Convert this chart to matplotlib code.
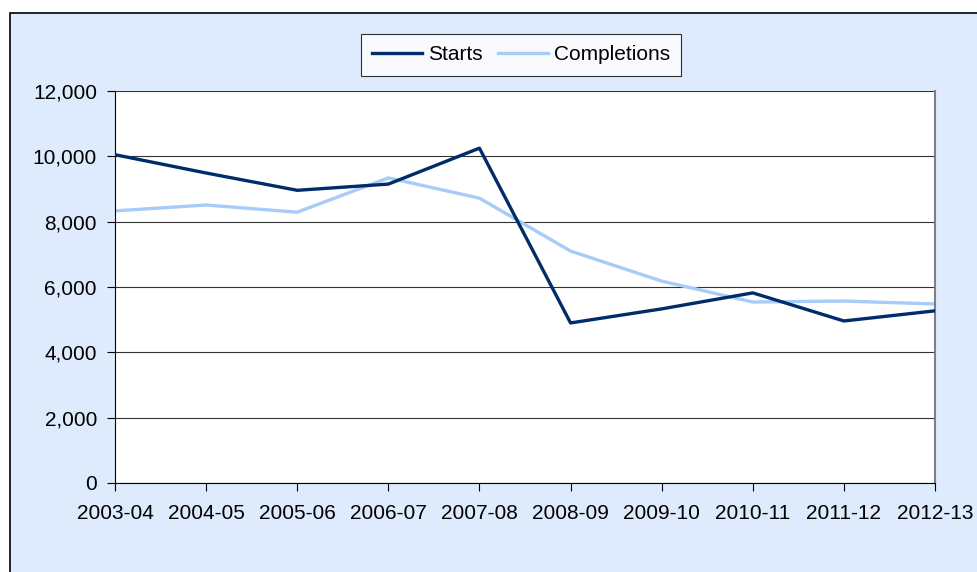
import numpy as np
import matplotlib.pyplot as plt
from matplotlib.patches import Rectangle
from matplotlib.ticker import FuncFormatter

years = ["2003-04", "2004-05", "2005-06", "2006-07", "2007-08",
         "2008-09", "2009-10", "2010-11", "2011-12", "2012-13"]
starts = [10050, 9490, 8960, 9150, 10250, 4900, 5330, 5820, 4960, 5270]
completions = [8330, 8510, 8290, 9340, 8720, 7100, 6180, 5540, 5570, 5480]

plt.rcParams['font.family'] = ['Liberation Sans', 'DejaVu Sans']

bg = '#DDEBFD'
fig = plt.figure(figsize=(9.77, 5.72), dpi=100)
fig.patch.set_facecolor('white')
# chart area with border (cut off on right and bottom)
fig.patches.append(Rectangle((10 / 977, -0.05), 1.1, (572 - 13) / 572 + 0.05,
                             transform=fig.transFigure, facecolor=bg,
                             edgecolor='black', linewidth=1.2, zorder=-1))

ax = fig.add_axes([115 / 977, 1 - 483 / 572, (935 - 115) / 977, (483 - 91) / 572])
ax.set_facecolor('white')
x = np.arange(len(years))
ax.plot(x, starts, color='#002D6A', linewidth=2.4, label='Starts', zorder=3)
ax.plot(x, completions, color='#A6CCF7', linewidth=2.4, label='Completions', zorder=2)

ax.set_xlim(0, len(years) - 1)
ax.set_ylim(0, 12000)
ax.set_yticks(np.arange(0, 12001, 2000))
ax.yaxis.set_major_formatter(FuncFormatter(lambda v, p: f"{int(v):,}"))
ax.set_xticks(x)
ax.set_xticklabels(years)
ax.grid(axis='y', color='#333333', linewidth=0.8)
ax.set_axisbelow(True)
ax.tick_params(labelsize=15, length=6, width=0.8, color='black')
ax.tick_params(axis='x', pad=9)
ax.tick_params(axis='y', pad=7)

ax.spines['top'].set_visible(False)
ax.spines['right'].set_color('#808080')
ax.spines['right'].set_linewidth(1.5)
ax.spines['left'].set_color('black')
ax.spines['bottom'].set_color('black')

leg = ax.legend(loc='center', bbox_to_anchor=(521 / 977, 1 - 55 / 572),
                bbox_transform=fig.transFigure, ncol=2, fontsize=15,
                frameon=True, fancybox=False, edgecolor='black',
                handlelength=2.4, handletextpad=0.3, columnspacing=0.7,
                borderpad=0.55, borderaxespad=0)
leg.get_frame().set_linewidth(0.8)

fig.savefig('out.png', dpi=100)
